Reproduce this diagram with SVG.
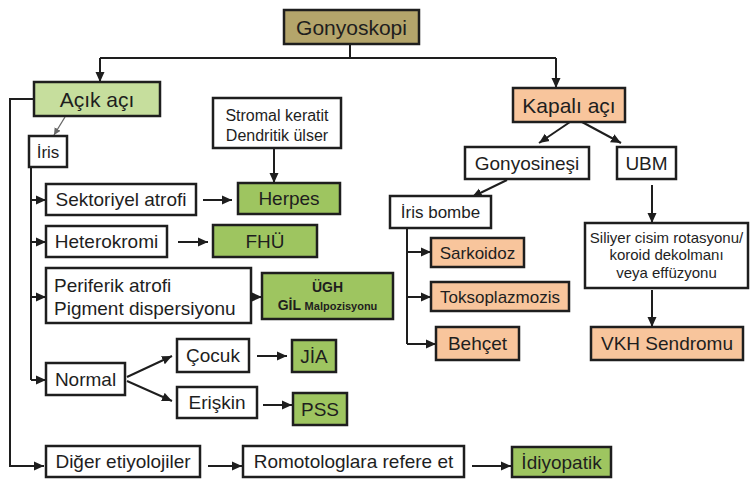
<svg xmlns="http://www.w3.org/2000/svg" width="752" height="479" viewBox="0 0 752 479">
<style>
.b{stroke:#1e1e1e;stroke-width:2.5;fill:#fff}
.olive{fill:#b4a56b}
.lg{fill:#c6de9d}
.g{fill:#9ec560}
.p{fill:#f8c59c}
text{font-family:"Liberation Sans",Arial,sans-serif;fill:#1e1e1e;text-anchor:middle}
.f21{font-size:21px}
.f19{font-size:19px}
.f17{font-size:17px}
.f16{font-size:16px}
.f15{font-size:15px}
.c{fill:none;stroke:#1e1e1e;stroke-width:2}
.thin{fill:none;stroke:#666;stroke-width:1.3}
</style>
<defs>
<marker id="a" markerUnits="userSpaceOnUse" markerWidth="10" markerHeight="10" refX="10" refY="5" orient="auto"><path d="M0,0.5 L10,5 L0,9.5 z" fill="#1e1e1e"/></marker>
<marker id="ag" markerUnits="userSpaceOnUse" markerWidth="7" markerHeight="7" refX="7" refY="3.5" orient="auto"><path d="M0,0 L7,3.5 L0,7 z" fill="#666"/></marker>
</defs>
<g id="connectors">
<path class="c" d="M350,44 V58"/>
<path class="c" d="M100,58 H556"/>
<path class="c" d="M100,58 V82" marker-end="url(#a)"/>
<path class="c" d="M556,58 V88" marker-end="url(#a)"/>
<path class="c" d="M34,99 H10 V466 H44" marker-end="url(#a)"/>
<path class="thin" d="M65,117 L54,135" marker-end="url(#ag)"/>
<path class="c" d="M31,167 V380"/>
<path class="c" d="M31,200 H46" marker-end="url(#a)"/>
<path class="c" d="M31,242 H46" marker-end="url(#a)"/>
<path class="c" d="M31,297 H46" marker-end="url(#a)"/>
<path class="c" d="M31,380 H46" marker-end="url(#a)"/>
<path class="c" d="M274,148 V183" marker-end="url(#a)"/>
<path class="c" d="M203,200 H232" marker-end="url(#a)"/>
<path class="c" d="M178,242 H208" marker-end="url(#a)"/>
<path class="c" d="M251,297 H262" marker-end="url(#a)"/>
<path class="c" d="M127,377 L172,356" marker-end="url(#a)"/>
<path class="c" d="M127,381 L172,401" marker-end="url(#a)"/>
<path class="c" d="M257,356 H287" marker-end="url(#a)"/>
<path class="c" d="M263,405 H292" marker-end="url(#a)"/>
<path class="c" d="M208,466 H242" marker-end="url(#a)"/>
<path class="c" d="M472,466 H511" marker-end="url(#a)"/>
<path class="c" d="M570,122 L539,143" marker-end="url(#a)"/>
<path class="c" d="M582,122 L621,143" marker-end="url(#a)"/>
<path class="c" d="M507,180 L472,197" marker-end="url(#a)"/>
<path class="c" d="M407,228 V344"/>
<path class="c" d="M407,252 H431" marker-end="url(#a)"/>
<path class="c" d="M407,297 H431" marker-end="url(#a)"/>
<path class="c" d="M407,344 H436" marker-end="url(#a)"/>
<path class="c" d="M652,185 V223" marker-end="url(#a)"/>
<path class="c" d="M652,290 V327" marker-end="url(#a)"/>
</g>
<g id="gonyoskopi"><rect class="b olive" x="284" y="10" width="135" height="34"/><text class="f21" x="351.5" y="34.5">Gonyoskopi</text></g>
<g id="acik-aci"><rect class="b lg" x="34" y="82" width="126" height="34"/><text class="f21" x="97" y="106.5">Açık açı</text></g>
<g id="kapali-aci"><rect class="b p" x="513" y="88" width="112" height="34"/><text class="f21" x="569" y="112.5">Kapalı açı</text></g>
<g id="iris"><rect class="b" x="29" y="136" width="38" height="31"/><text class="f17" x="48" y="157.5">İris</text></g>
<g id="stromal"><rect class="b" x="213" y="98" width="128" height="50"/><text class="f16" x="277" y="120.5">Stromal keratit</text><text class="f16" x="277" y="140.5">Dendritik ülser</text></g>
<g id="sektoriyel"><rect class="b" x="46" y="184" width="150" height="31"/><text class="f19" x="121" y="206">Sektoriyel atrofi</text></g>
<g id="herpes"><rect class="b g" x="238" y="183" width="102" height="31"/><text class="f19" x="289" y="205">Herpes</text></g>
<g id="heterokromi"><rect class="b" x="46" y="226" width="121" height="31"/><text class="f19" x="106.5" y="248">Heterokromi</text></g>
<g id="fhu"><rect class="b g" x="213" y="225" width="104" height="32"/><text class="f19" x="265" y="248">FHÜ</text></g>
<g id="periferik"><rect class="b" x="46" y="268" width="205" height="55"/><text class="f19" x="54" y="292" style="text-anchor:start">Periferik atrofi</text><text class="f19" x="54" y="315" style="text-anchor:start">Pigment dispersiyonu</text></g>
<g id="ugh"><rect class="b g" x="262" y="273" width="131" height="46"/><text x="327.5" y="292" style="font-size:14px;font-weight:bold">ÜGH</text><text x="327.5" y="310" style="font-size:14px;font-weight:bold">GİL <tspan style="font-size:11px">Malpozisyonu</tspan></text></g>
<g id="normal"><rect class="b" x="46" y="363" width="79" height="32"/><text class="f19" x="85.5" y="386">Normal</text></g>
<g id="cocuk"><rect class="b" x="177" y="339" width="72" height="33"/><text class="f19" x="213" y="362">Çocuk</text></g>
<g id="jia"><rect class="b g" x="292" y="340" width="44" height="32"/><text class="f19" x="314" y="363">JİA</text></g>
<g id="eriskin"><rect class="b" x="177" y="387" width="80" height="31"/><text class="f19" x="217" y="409">Erişkin</text></g>
<g id="pss"><rect class="b g" x="293" y="393" width="54" height="32"/><text class="f19" x="320" y="416">PSS</text></g>
<g id="diger"><rect class="b" x="46" y="446" width="154" height="31"/><text class="f19" x="123" y="468">Diğer etiyolojiler</text></g>
<g id="romotologlara"><rect class="b" x="243" y="446" width="221" height="31"/><text class="f19" x="353.5" y="468">Romotologlara refere et</text></g>
<g id="idiyopatik"><rect class="b g" x="512" y="447" width="99" height="30"/><text class="f19" x="561.5" y="469">İdiyopatik</text></g>
<g id="gonyosinesi"><rect class="b" x="465" y="147" width="124" height="32"/><text class="f19" x="527" y="170">Gonyosineşi</text></g>
<g id="ubm"><rect class="b" x="617" y="147" width="59" height="32"/><text class="f19" x="646.5" y="170">UBM</text></g>
<g id="iris-bombe"><rect class="b" x="390" y="196" width="101" height="32"/><text class="f17" x="440.5" y="218">İris bombe</text></g>
<g id="sarkoidoz"><rect class="b p" x="431" y="238" width="93" height="29"/><text class="f17" x="477.5" y="258.5">Sarkoidoz</text></g>
<g id="toksoplazmozis"><rect class="b p" x="431" y="282" width="138" height="29"/><text class="f17" x="500" y="302.5">Toksoplazmozis</text></g>
<g id="behcet"><rect class="b p" x="436" y="327" width="83" height="33"/><text class="f19" x="477.5" y="350">Behçet</text></g>
<g id="siliyer"><rect class="b" x="585" y="223" width="163" height="65"/><text class="f15" x="666.5" y="243">Siliyer cisim rotasyonu/</text><text class="f15" x="666.5" y="260">koroid dekolmanı</text><text class="f15" x="666.5" y="278">veya effüzyonu</text></g>
<g id="vkh"><rect class="b p" x="591" y="327" width="152" height="33"/><text class="f19" x="667" y="350">VKH Sendromu</text></g>
</svg>
